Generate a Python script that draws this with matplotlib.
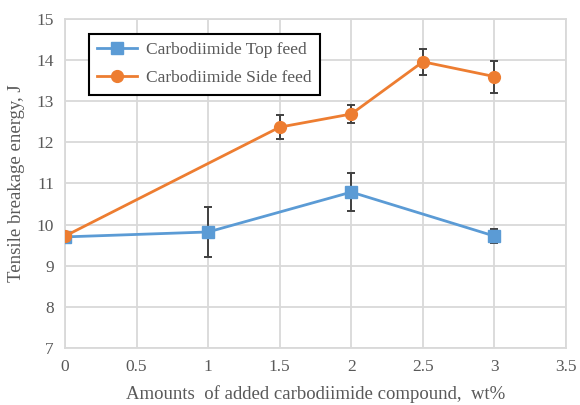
import matplotlib
matplotlib.use('Agg')
import matplotlib.pyplot as plt

# data
top_x = [0, 1, 2, 3]
top_y = [9.70, 9.82, 10.79, 9.72]
top_err = [0.10, 0.60, 0.46, 0.18]

side_x = [0, 1.5, 2, 2.5, 3]
side_y = [9.72, 12.37, 12.69, 13.96, 13.60]
side_err = [0.10, 0.29, 0.23, 0.31, 0.39]

x_ticks = [0, 0.5, 1, 1.5, 2, 2.5, 3, 3.5]
x_labels = ['0', '0.5', '1', '1.5', '2', '2.5', '3', '3.5']
y_ticks = [7, 8, 9, 10, 11, 12, 13, 14, 15]

plt.rcParams['font.family'] = ['Liberation Serif', 'DejaVu Serif']
text_color = '#595959'
grid_color = '#d9d9d9'
err_color = '#404040'

fig = plt.figure(figsize=(5.8, 4.05), dpi=100)
ax = fig.add_axes([0.112, 0.141, 0.864, 0.812])

# error bars first, then the lines with markers (so legend has no bars)
ax.errorbar(top_x, top_y, yerr=top_err, fmt='none', ecolor=err_color,
            elinewidth=1.4, capsize=3, capthick=1.4, zorder=3)
ax.errorbar(side_x, side_y, yerr=side_err, fmt='none', ecolor=err_color,
            elinewidth=1.4, capsize=3, capthick=1.4, zorder=3)
ax.plot(top_x, top_y, color='#5b9bd5', marker='s', markersize=8, linewidth=2,
        label='Carbodiimide Top feed', zorder=4)
ax.plot(side_x, side_y, color='#ed7d31', marker='o', markersize=8.5, linewidth=2,
        label='Carbodiimide Side feed', zorder=5)

ax.set_xlim(0, 3.5)
ax.set_ylim(7, 15)
ax.set_xticks(x_ticks)
ax.set_xticklabels(x_labels)
ax.set_yticks(y_ticks)
ax.grid(True, color=grid_color, linewidth=1.3)
ax.set_axisbelow(True)
for s in ax.spines.values():
    s.set_color(grid_color)
    s.set_linewidth(1.3)
ax.tick_params(length=0, labelsize=12.5, colors=text_color, pad=8)

ax.set_xlabel('Amounts  of added carbodiimide compound,  wt%', fontsize=13.5,
              color=text_color, labelpad=7)
ax.set_ylabel('Tensile breakage energy, J', fontsize=13.5, color=text_color, labelpad=8)

leg = ax.legend(loc='upper left', bbox_to_anchor=(0.03, 0.982), fontsize=12.5,
                frameon=True, fancybox=False, edgecolor='black', framealpha=1,
                handlelength=2.3, handletextpad=0.5, borderpad=0.5, labelspacing=0.65)
leg.get_frame().set_linewidth(1.5)
for t in leg.get_texts():
    t.set_color(text_color)

fig.savefig('out.png', dpi=100)
